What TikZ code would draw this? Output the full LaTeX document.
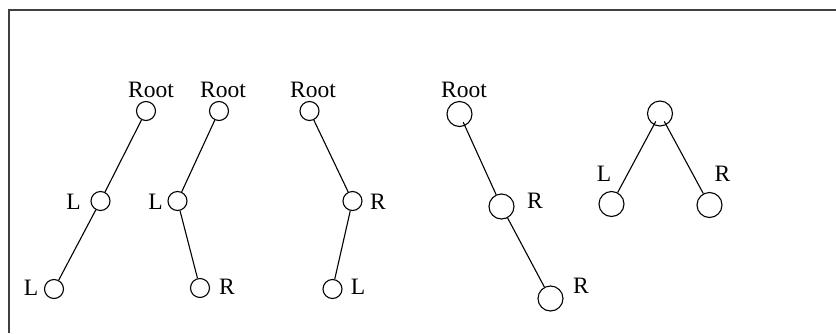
\documentclass[tikz,border=0pt]{standalone}
\usepackage{fontspec}
\setmainfont{Liberation Serif}
\usepackage{tikz}
\usetikzlibrary{positioning}

\begin{document}
\begin{tikzpicture}[
    x=1pt, y=-1pt,
    nd/.style={circle, draw, line width=1.1pt, minimum size=19pt, inner sep=0pt},
    big/.style={circle, draw, line width=1.1pt, minimum size=25pt, inner sep=0pt},
    lbl/.style={inner sep=0pt, font=\fontsize{23.5}{28}\selectfont},
    edge/.style={line width=1.1pt},
    frame/.style={line width=1.6pt, color=black!75}
]
    \useasboundingbox (0,0) rectangle (836,333);

    % Frame (only top and left edges are seen)
    \coordinate (ftl) at (9,10);
    \draw[frame] (836,10) -- (ftl) -- (9,333);

    % Tree 1: L, L
    \node[nd] (r1) at (146,111) {};
    \node[nd] (a1) at (100.5,201) {};
    \node[nd] (b1) at (54,289) {};
    \node[lbl] (r1t) at (151,89.5) {Root};
    \node[lbl] (a1t) at (73.5,202) {L};
    \node[lbl] (b1t) at (31,288) {L};
    \draw[edge] (r1) -- (a1);
    \draw[edge] (a1) -- (b1);

    % Tree 2: L, R
    \node[nd] (r2) at (219,111) {};
    \node[nd] (a2) at (177.5,201) {};
    \node[nd] (b2) at (200,288) {};
    \node[lbl] (r2t) at (223,89.5) {Root};
    \node[lbl] (a2t) at (155.5,202) {L};
    \node[lbl] (b2t) at (227,287) {R};
    \draw[edge] (r2) -- (a2);
    \draw[edge] (a2) -- (b2);

    % Tree 3: R, L
    \node[nd] (r3) at (309.5,111) {};
    \node[nd] (a3) at (352.5,201) {};
    \node[nd] (b3) at (332.5,289) {};
    \node[lbl] (r3t) at (313,89.5) {Root};
    \node[lbl] (a3t) at (378,202) {R};
    \node[lbl] (b3t) at (358,287) {L};
    \draw[edge] (r3) -- (a3);
    \draw[edge] (a3) -- (b3);

    % Tree 4: R, R
    \node[big] (r4) at (459.5,114) {};
    \node[big] (a4) at (501.5,206.5) {};
    \node[big] (b4) at (550.5,298.5) {};
    \node[lbl] (r4t) at (464,89.5) {Root};
    \node[lbl] (a4t) at (535,201) {R};
    \node[lbl] (b4t) at (581,286) {R};
    \draw[edge, shorten <=-4pt] (r4) -- (a4);
    \draw[edge] (a4) -- (b4);

    % Tree 5: balanced
    \node[big] (r5) at (660,113.5) {};
    \node[big] (a5) at (611.5,204) {};
    \node[big] (b5) at (709.5,205) {};
    \node[lbl] (a5t) at (604,174) {L};
    \node[lbl] (b5t) at (722.5,174) {R};
    \draw[edge, shorten <=-4pt] (r5) -- (a5);
    \draw[edge, shorten <=-4pt] (r5) -- (b5);

\end{tikzpicture}
\end{document}
